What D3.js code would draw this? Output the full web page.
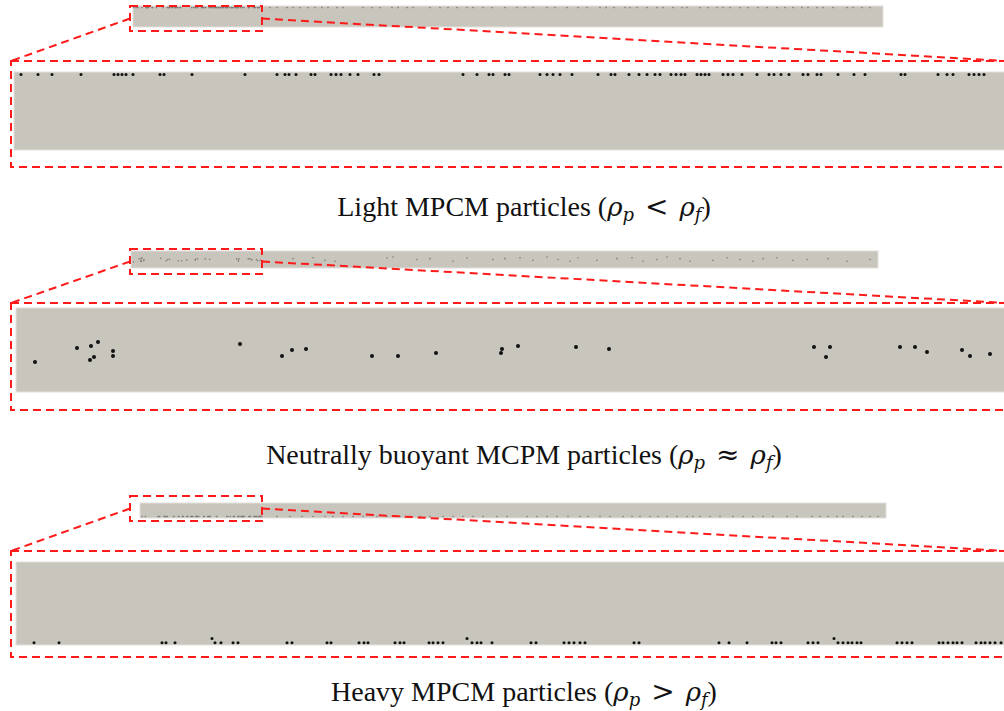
<!DOCTYPE html>
<html>
<head>
    <meta charset="UTF-8">
    <title>MPCM particles in pipe</title>
    <style>
        body { margin: 0; background: #fff; }
        .pipe { fill: #c8c5bd; stroke: #e2e0db; stroke-width: 1px; }
        .frame { fill: none; stroke: #ff1a1a; stroke-width: 2px; stroke-dasharray: 8,5; }
        .caption { font-family: "Liberation Serif", "Times New Roman", serif; font-size: 28px; fill: #111; }
        .math { font-family: "DejaVu Serif", serif; font-style: italic; }
    </style>
</head>
<body>
<script src="https://cdn.jsdelivr.net/npm/d3@7/dist/d3.min.js"></script>
<script>

    // captions
    var captionText = ["Light MPCM particles", "Neutrally buoyant MCPM particles", "Heavy MPCM particles"];
    var captionOps = ["<", "\u2248", ">"];

    // light particles: axial position inside zoom window (0..990), all at top wall
    var lightZoomX = [7, 24, 38, 67, 100, 104, 108, 112, 119, 146, 150, 178, 231, 263, 271, 275, 282, 297, 301,
        317, 322, 327, 336, 344, 360, 365, 449, 463, 475, 479, 491, 495, 526, 533, 539, 546, 558, 584, 597, 601,
        615, 625, 633, 641, 646, 657, 662, 667, 671, 683, 687, 691, 695, 709, 714, 719, 728, 743, 755, 760, 767,
        775, 789, 794, 803, 807, 824, 840, 851, 887, 891, 924, 933, 939, 955, 960, 965, 970];
    // light particles seen on the whole pipe, outside the zoom window (0..750)
    var lightOverviewX = [137, 144, 154, 160, 167, 175, 182, 189, 195, 204, 210, 230, 239, 247, 259, 265, 274, 280,
        297, 307, 315, 324, 334, 340, 350, 359, 372, 384, 392, 400, 414, 422, 434, 445, 454, 467, 473, 481, 492,
        497, 504, 514, 524, 530, 540, 549, 554, 567, 575, 584, 590, 597, 607, 615, 625, 634, 644, 652, 660, 669,
        675, 684, 690, 700, 714, 720, 729, 737];

    // neutrally buoyant particles: position in zoom window (x 0..988, y 0..84 from top)
    var neutralZoomX = [19, 61, 75, 82, 74, 78, 97, 97, 224, 266, 276, 290, 356, 382, 420, 485, 486, 502, 560, 593,
        798, 814, 810, 884, 899, 911, 946, 954, 974];
    var neutralZoomY = [54, 40, 38, 34, 52, 49, 43, 48, 36, 48, 42, 41, 48, 48, 45, 45, 41, 38, 39, 41,
        39, 39, 49, 39, 39, 44, 42, 48, 46];
    var neutralOverviewX = [162, 182, 194, 204, 256, 262, 286, 299, 322, 336, 362, 374, 389, 402, 416, 427, 439, 447,
        466, 486, 501, 512, 526, 536, 549, 559, 582, 596, 609, 622, 632, 646, 662, 676, 697, 716, 739];
    var neutralOverviewY = [0.45, 0.4, 0.55, 0.6, 0.4, 0.35, 0.5, 0.45, 0.6, 0.4, 0.5, 0.45, 0.4, 0.55, 0.35, 0.5,
        0.6, 0.4, 0.55, 0.45, 0.4, 0.6, 0.5, 0.35, 0.45, 0.6, 0.55, 0.4, 0.5, 0.6, 0.45, 0.4, 0.55, 0.5, 0.45, 0.6, 0.5];

    // heavy particles: position in zoom window (0..988), resting on bottom wall
    var heavyZoomX = [18, 43, 146, 150, 159, 199, 205, 217, 222, 271, 276, 311, 315, 343, 348, 352, 379, 384, 388,
        413, 417, 422, 427, 456, 461, 465, 476, 515, 520, 548, 553, 558, 564, 569, 618, 623, 703, 713, 731, 756,
        760, 765, 792, 797, 802, 822, 827, 832, 836, 841, 845, 881, 886, 891, 896, 923, 927, 932, 937, 941, 946,
        960, 965, 969, 974, 979, 985];
    // heavy particles lifted slightly off the wall
    var heavyRaisedX = [196, 451, 818];
    var heavyOverviewX = [137, 150, 162, 173, 185, 193, 203, 213, 223, 237, 247, 260, 270, 280, 290, 303, 313, 323,
        333, 343, 357, 367, 387, 397, 407, 417, 428, 440, 448, 460, 470, 483, 492, 500, 510, 518, 527, 537, 547,
        553, 560, 570, 580, 593, 603, 613, 623, 633, 647, 657, 672, 680, 688, 697, 703, 713, 722, 730, 738];

    var svg = d3.select("body").append("svg").attr("width", 1004).attr("height", 711);

    // layout of each panel: overview strip, small frame, zoom strip, big frame
    var panels = [
        {ov: [133, 883, 6, 27], box: [130, 262, 6, 31], zm: [14, 1004, 72, 150], big: [11, 1006, 61, 167], win: 129, capY: 216},
        {ov: [131, 878, 251, 268], box: [130, 262, 249, 274], zm: [16, 1004, 308, 392], big: [11, 1006, 303, 410], win: 131, capY: 464},
        {ov: [140, 886, 503, 518], box: [130, 262, 496, 521], zm: [16, 1004, 562, 645], big: [11, 1006, 551, 657], win: 122, capY: 701}
    ];

    panels.forEach(function (p, i) {
        var zLen = p.zm[1] - p.zm[0];
        var zH = p.zm[3] - p.zm[2];
        var ovX = d3.scaleLinear().domain([0, p.ov[1] - p.ov[0]]).range([p.ov[0], p.ov[1]]);
        var ovY = d3.scaleLinear().domain([0, zH]).range([p.ov[2], p.ov[3]]);
        var zX = d3.scaleLinear().domain([0, zLen]).range([p.zm[0], p.zm[1]]);
        var zY = d3.scaleLinear().domain([0, zH]).range([p.zm[2], p.zm[3]]);
        // zoom window position -> whole pipe position
        var toOv = d3.scaleLinear().domain([0, zLen]).range([0, p.win]);

        var g = svg.append("g");

        g.append("rect").attr("class", "pipe")
            .attr("x", p.ov[0]).attr("y", p.ov[2])
            .attr("width", p.ov[1] - p.ov[0]).attr("height", p.ov[3] - p.ov[2]);
        g.append("rect").attr("class", "pipe")
            .attr("x", p.zm[0]).attr("y", p.zm[2])
            .attr("width", zLen + 4).attr("height", zH);

        var zoomPts, ovPts;
        if (i === 0) {
            zoomPts = lightZoomX.map(function (d) { return {x: d, y: 2.5}; });
            ovPts = lightOverviewX.map(function (d) { return {x: d, y: 6}; });
        } else if (i === 1) {
            zoomPts = neutralZoomX.map(function (d, k) { return {x: d, y: neutralZoomY[k]}; });
            ovPts = neutralOverviewX.map(function (d, k) { return {x: d, y: neutralOverviewY[k] * zH}; });
        } else {
            zoomPts = heavyZoomX.map(function (d) { return {x: d, y: zH - 2.3}; })
                .concat(heavyRaisedX.map(function (d) { return {x: d, y: zH - 6.5}; }));
            ovPts = heavyOverviewX.map(function (d) { return {x: d, y: zH - 8}; });
        }

        // particles on the whole pipe (faint)
        g.selectAll(".ovdot").data(zoomPts.map(function (d) { return {x: ovX(toOv(d.x)), y: ovY(i === 1 ? d.y : (i === 0 ? 6 : zH - 8))}; })
            .concat(ovPts.map(function (d) { return {x: ovX(d.x), y: ovY(d.y)}; })))
            .enter().append("circle")
            .attr("cx", function (d) { return d.x; })
            .attr("cy", function (d) { return d.y; })
            .attr("r", 0.8)
            .attr("fill", "#7d7b77");

        // particles in the zoomed window
        g.selectAll(".zdot").data(zoomPts).enter().append("circle")
            .attr("cx", function (d) { return zX(d.x); })
            .attr("cy", function (d) { return zY(d.y); })
            .attr("r", i === 1 ? 2 : 1.5)
            .attr("fill", "#111");

        // red dashed frames and connectors
        var midY = (p.box[2] + p.box[3]) / 2;
        g.append("path").attr("class", "frame")
            .attr("d", "M" + p.box[0] + "," + midY + "L" + p.big[0] + "," + p.big[2]);
        g.append("path").attr("class", "frame")
            .attr("d", "M" + p.box[1] + "," + midY + "L" + p.big[1] + "," + p.big[2]);
        g.append("rect").attr("class", "frame")
            .attr("x", p.box[0]).attr("y", p.box[2])
            .attr("width", p.box[1] - p.box[0]).attr("height", p.box[3] - p.box[2]);
        g.append("rect").attr("class", "frame")
            .attr("x", p.big[0]).attr("y", p.big[2])
            .attr("width", p.big[1] - p.big[0]).attr("height", p.big[3] - p.big[2]);

        // caption
        var t = svg.append("text").attr("class", "caption")
            .attr("x", 524).attr("y", p.capY).attr("text-anchor", "middle");
        t.append("tspan").text(captionText[i] + " (");
        t.append("tspan").attr("class", "math").attr("font-size", 26).text("\u03c1");
        t.append("tspan").attr("class", "math").attr("dy", 5).attr("font-size", 18).text("p");
        t.append("tspan").attr("class", "math").attr("dy", -5).attr("dx", 11).attr("font-style", "normal").text(captionOps[i]);
        t.append("tspan").attr("class", "math").attr("dx", 11).attr("font-size", 26).text("\u03c1");
        t.append("tspan").attr("class", "math").attr("dy", 5).attr("font-size", 18).text("f");
        t.append("tspan").attr("dy", -5).text(")");
    });

</script>
</body>
</html>
